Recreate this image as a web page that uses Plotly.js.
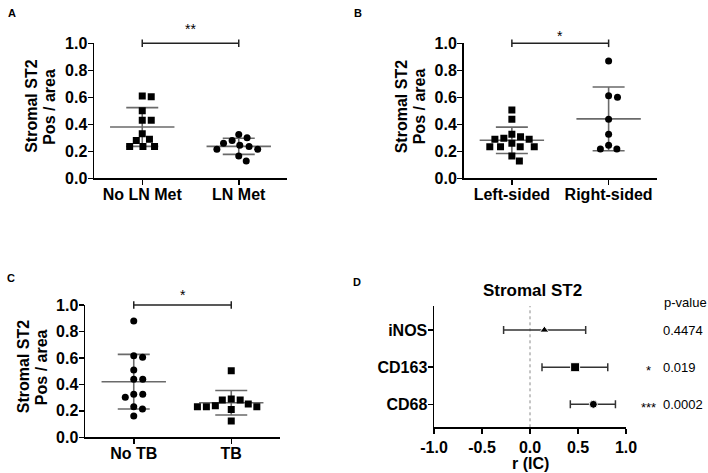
<!DOCTYPE html>
<html><head><meta charset="utf-8">
<script src="https://cdn.plot.ly/plotly-3.0.1.min.js"></script>
<style>html,body{margin:0;padding:0;background:#fff}#chart{width:708px;height:473px}</style>
</head><body><div id="chart"></div>
<script>
// ---------- data ----------
// Panel A
const catsA = ['No LN Met', 'LN Met'];
const noLnMet = [0.61, 0.605, 0.50, 0.43, 0.43, 0.33, 0.29, 0.28, 0.235, 0.235, 0.235];
const lnMet = [0.325, 0.30, 0.28, 0.26, 0.245, 0.235, 0.215, 0.215, 0.165, 0.128];
const sigA = '**';
// Panel B
const catsB = ['Left-sided', 'Right-sided'];
const leftSided = [0.506, 0.437, 0.326, 0.308, 0.296, 0.289, 0.289, 0.259, 0.234, 0.234, 0.234, 0.234, 0.165, 0.128];
const rightSided = [0.869, 0.612, 0.60, 0.437, 0.326, 0.244, 0.217, 0.217];
const sigB = '*';
// Panel C
const catsC = ['No TB', 'TB'];
const noTB = [0.879, 0.617, 0.605, 0.509, 0.438, 0.438, 0.325, 0.325, 0.302, 0.231, 0.214, 0.161];
const tb = [0.503, 0.29, 0.282, 0.282, 0.252, 0.239, 0.231, 0.231, 0.231, 0.211, 0.123];
const sigC = '*';
// shared y ticks
const yTicks = [0, 0.2, 0.4, 0.6, 0.8, 1.0];
const yTitle1 = 'Stromal ST2';
const yTitle2 = 'Pos / area';
// Panel D
const markersD = ['iNOS', 'CD163', 'CD68'];
const rD = [0.15, 0.47, 0.66];
const ciLow = [-0.275, 0.125, 0.42];
const ciHigh = [0.58, 0.81, 0.89];
const pValues = ['0.4474', '0.019', '0.0002'];
const pStars = ['', '*', '***'];
const xTicksD = [-1, -0.5, 0, 0.5, 1];
const titleD = 'Stromal ST2';
const xTitleD = 'r (IC)';
const pHeader = 'p-value';
const panelLetters = ['A', 'B', 'C', 'D'];

// ---------- layout geometry (pixels) ----------
const W = 708, H = 473;
const FONT = 'Liberation Sans, Arial, Helvetica, sans-serif';
const px = x => x / W;
const py = y => 1 - y / H;
const boxes = {
  A: {x0: 94, x1: 287, y0: 43.3, y1: 178.3},
  B: {x0: 463.5, x1: 657, y0: 43.3, y1: 178.3},
  C: {x0: 85, x1: 280, y0: 305, y1: 437.3},
  D: {x0: 434, x1: 626, y0: 306, y1: 427.3}
};
const XR = [-0.5, 1.5];

const mean = a => a.reduce((s, v) => s + v, 0) / a.length;
const sd = a => { const m = mean(a); return Math.sqrt(a.reduce((s, v) => s + (v - m) * (v - m), 0) / (a.length - 1)); };

// simple beeswarm: horizontal offsets (data units) so markers don't overlap
function swarm(values, pxPerX, pxPerY, diam) {
  const idx = values.map((v, i) => i).sort((a, b) => values[b] - values[a]);
  const placed = [];
  const out = new Array(values.length);
  for (const i of idx) {
    const y = values[i] * pxPerY;
    const iv = [];
    for (const p of placed) {
      const dy = Math.abs(p.y - y);
      if (dy < diam) { const dx = Math.sqrt(diam * diam - dy * dy); iv.push([p.x - dx, p.x + dx]); }
    }
    const cands = [0];
    iv.forEach(([a, b]) => cands.push(a, b));
    cands.sort((a, b) => Math.abs(a) - Math.abs(b) || b - a);
    let chosen = 0;
    for (const c of cands) {
      if (iv.every(([a, b]) => c <= a + 1e-6 || c >= b - 1e-6)) { chosen = c; break; }
    }
    placed.push({x: chosen, y});
    out[i] = chosen / pxPerX;
  }
  return out;
}

const traces = [];
const annotations = [];
const shapes = [];
const LINEGRAY = '#6a6a6a';

function dotPanel(key, ax, cats, g0, g1, sym0, sym1, sig, sigGlyphY) {
  const b = boxes[key];
  const pxPerX = (b.x1 - b.x0) / (XR[1] - XR[0]);
  const pxPerY = (b.y1 - b.y0);
  const xa = 'x' + (ax === 1 ? '' : ax), ya = 'y' + (ax === 1 ? '' : ax);
  // mean +/- SD
  traces.push({
    type: 'scatter', mode: 'markers', xaxis: xa, yaxis: ya, hoverinfo: 'skip', showlegend: false,
    x: [0, 1], y: [mean(g0), mean(g1)],
    marker: {symbol: 'line-ew', size: 46, opacity: 1, color: LINEGRAY, line: {color: LINEGRAY, width: 1.6}},
    error_y: {type: 'data', array: [sd(g0), sd(g1)], visible: true, width: 16, thickness: 1.6, color: LINEGRAY}
  });
  [[g0, sym0, 0], [g1, sym1, 1]].forEach(([g, sym, c]) => {
    const off = swarm(g, pxPerX, pxPerY, 9);
    traces.push({
      type: 'scatter', mode: 'markers', xaxis: xa, yaxis: ya, showlegend: false,
      x: g.map((v, i) => c + off[i]), y: g,
      marker: {symbol: sym, size: 7, opacity: 1, color: '#000'}
    });
  });
  // significance bracket
  const capH = 3.8 / pxPerY;
  shapes.push({type: 'line', xref: xa, yref: ya + ' domain', x0: 0, x1: 1, y0: 1, y1: 1, line: {color: '#222', width: 1.5}});
  shapes.push({type: 'line', xref: xa, yref: ya + ' domain', x0: 0, x1: 0, y0: 1 - capH, y1: 1 + capH, line: {color: '#222', width: 1.5}});
  shapes.push({type: 'line', xref: xa, yref: ya + ' domain', x0: 1, x1: 1, y0: 1 - capH, y1: 1 + capH, line: {color: '#222', width: 1.5}});
  annotations.push({xref: xa, yref: 'paper', x: 0.5, y: py(sigGlyphY + 3), text: sig, showarrow: false,
    xanchor: 'center', yanchor: 'middle', font: {family: FONT, size: 14, color: '#000'}});
  // y titles (two lines)
  const cy = (b.y0 + b.y1) / 2 - 4;
  [[yTitle1, b.x0 - 62], [yTitle2, b.x0 - 44]].forEach(([t, x]) => {
    annotations.push({xref: 'paper', yref: 'paper', x: px(x), y: py(cy), text: t, textangle: -90, showarrow: false,
      xanchor: 'center', yanchor: 'middle', font: {family: FONT, size: 16, weight: 'bold', color: '#000'}});
  });
}

dotPanel('A', 1, catsA, noLnMet, lnMet, 'square', 'circle', sigA, 26);
dotPanel('B', 2, catsB, leftSided, rightSided, 'square', 'circle', sigB, 33);
dotPanel('C', 3, catsC, noTB, tb, 'circle', 'square', sigC, 291.5);

// Panel D forest plot: whiskers first, then markers on top
const symD = ['triangle-up', 'square', 'circle'];
const sizeD = [8, 9, 8];
traces.push({
  type: 'scatter', mode: 'markers', xaxis: 'x4', yaxis: 'y4', showlegend: false, hoverinfo: 'skip',
  x: rD, y: markersD,
  marker: {size: 1, color: 'rgba(0,0,0,0)'},
  error_x: {type: 'data', symmetric: false, array: rD.map((v, i) => ciHigh[i] - v), arrayminus: rD.map((v, i) => v - ciLow[i]),
    visible: true, width: 4, thickness: 1.5, color: '#333'}
});
traces.push({
  type: 'scatter', mode: 'markers', xaxis: 'x4', yaxis: 'y4', showlegend: false,
  x: rD, y: markersD,
  marker: {symbol: symD, size: sizeD, opacity: 1, color: '#000'}
});
shapes.push({type: 'line', xref: 'x4', yref: 'y4 domain', x0: 0, x1: 0, y0: 0, y1: 1, layer: 'below',
  line: {color: '#8a8a8a', width: 1, dash: 'dot'}});

const bD = boxes.D;
annotations.push({xref: 'paper', yref: 'paper', x: px(532), y: py(290), text: titleD, showarrow: false,
  xanchor: 'center', yanchor: 'middle', font: {family: FONT, size: 17, weight: 'bold', color: '#000'}});
annotations.push({xref: 'paper', yref: 'paper', x: px(530), y: py(463), text: xTitleD, showarrow: false,
  xanchor: 'center', yanchor: 'middle', font: {family: FONT, size: 16, weight: 'bold', color: '#000'}});
annotations.push({xref: 'paper', yref: 'paper', x: px(685), y: py(302), text: pHeader, showarrow: false,
  xanchor: 'center', yanchor: 'middle', font: {family: FONT, size: 13, color: '#000'}});
markersD.forEach((m, i) => {
  annotations.push({xref: 'paper', yref: 'y4', x: px(661), y: m, text: pValues[i], showarrow: false,
    xanchor: 'left', yanchor: 'middle', font: {family: FONT, size: 13, color: '#000'}});
  if (pStars[i]) annotations.push({xref: 'paper', yref: 'y4', x: px(648.5), y: m, yshift: -3, text: pStars[i], showarrow: false,
    xanchor: 'center', yanchor: 'middle', font: {family: FONT, size: 13, color: '#000'}});
});

// panel letters
[[panelLetters[0], 12, 13], [panelLetters[1], 358, 13], [panelLetters[2], 11, 278], [panelLetters[3], 357, 282]].forEach(([t, x, y]) => {
  annotations.push({xref: 'paper', yref: 'paper', x: px(x), y: py(y), text: t, showarrow: false,
    xanchor: 'center', yanchor: 'middle', font: {family: FONT, size: 11, weight: 'bold', color: '#000'}});
});

// ---------- axes ----------
const tickFont = {family: FONT, size: 16, weight: 'bold', color: '#000'};
function catX(key, cats, anchor) {
  const b = boxes[key];
  return {domain: [px(b.x0), px(b.x1)], anchor: anchor, range: XR, tickvals: [0, 1], ticktext: cats,
    showline: true, linecolor: '#000', linewidth: 1.5, ticks: 'outside', ticklen: 5, tickwidth: 1.5, tickcolor: '#000',
    ticklabelstandoff: -4,
    showgrid: false, zeroline: false, tickfont: tickFont, fixedrange: true};
}
function valY(key, anchor) {
  const b = boxes[key];
  return {domain: [py(b.y1), py(b.y0)], anchor: anchor, range: [0, 1], tickvals: yTicks, tickformat: '.1f',
    showline: true, linecolor: '#000', linewidth: 1.5, ticks: 'outside', ticklen: 5, tickwidth: 1.5, tickcolor: '#000',
    ticklabelstandoff: -3,
    showgrid: false, zeroline: false, tickfont: tickFont, fixedrange: true};
}

const layout = {
  width: W, height: H, margin: {l: 0, r: 0, t: 0, b: 0},
  paper_bgcolor: '#fff', plot_bgcolor: 'rgba(0,0,0,0)', showlegend: false,
  font: {family: FONT, color: '#000'},
  xaxis: catX('A', catsA, 'y'), yaxis: valY('A', 'x'),
  xaxis2: catX('B', catsB, 'y2'), yaxis2: valY('B', 'x2'),
  xaxis3: catX('C', catsC, 'y3'), yaxis3: valY('C', 'x3'),
  xaxis4: {domain: [px(bD.x0), px(bD.x1)], anchor: 'y4', range: [-1, 1], tickvals: xTicksD,
    ticktext: xTicksD.map(v => v.toFixed(1)),
    showline: true, linecolor: '#000', linewidth: 1.5, ticks: 'outside', ticklen: 5, tickwidth: 1.5, tickcolor: '#000',
    showgrid: false, zeroline: false, tickfont: tickFont, fixedrange: true},
  yaxis4: {domain: [py(bD.y1), py(bD.y0)], anchor: 'x4', type: 'category', categoryorder: 'array',
    categoryarray: markersD.slice().reverse(), range: [-0.62, 2.65],
    showline: true, linecolor: '#000', linewidth: 1.5, ticks: 'outside', ticklen: 5, tickwidth: 1.5, tickcolor: '#000',
    ticklabelstandoff: -3,
    showgrid: false, zeroline: false, tickfont: tickFont, fixedrange: true},
  shapes: shapes, annotations: annotations
};

Plotly.newPlot('chart', traces, layout, {displayModeBar: false, staticPlot: true});
</script>
</body></html>
